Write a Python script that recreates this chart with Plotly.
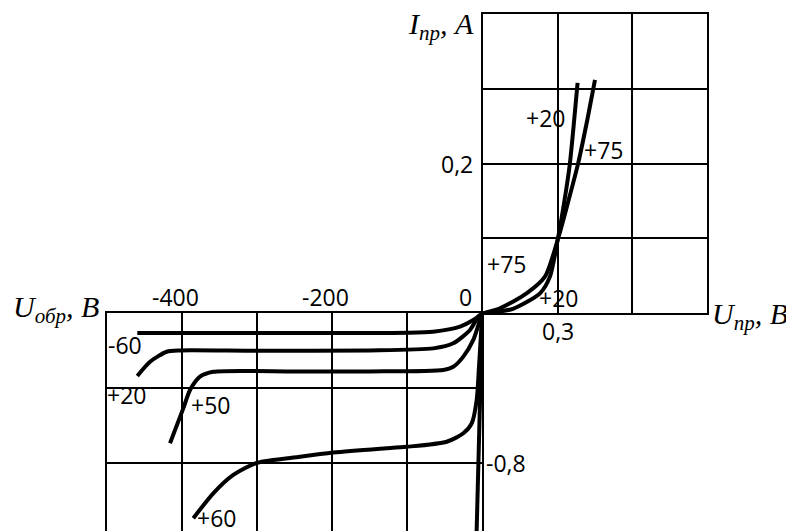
import plotly.graph_objects as go

# page is offset by the default 8px body margin
OFF = 8
W, H = 794 - OFF, 531 - OFF

# ---- forward branch (U_пр, V ; I_пр, A) ----
fwd20_u = [0, 0.068, 0.12, 0.229, 0.269, 0.300, 0.327, 0.349, 0.364, 0.380]
fwd20_i = [0, 0.0024, 0.006, 0.0267, 0.049, 0.098, 0.150, 0.200, 0.250, 0.308]
fwd75_u = [0, 0.068, 0.175, 0.249, 0.300, 0.343, 0.382, 0.420, 0.450]
fwd75_i = [0, 0.0067, 0.0267, 0.049, 0.098, 0.150, 0.200, 0.260, 0.312]

# ---- reverse branch (U_обр, V ; I_обр) ----
rev_m60_u = [-460, -300, -150, -100, -65.7, -29.7, -12, 0]
rev_m60_i = [-0.105, -0.105, -0.105, -0.104, -0.098, -0.071, -0.036, 0]
rev_20_u = [-460, -443, -420.8, -403, -300, -150, -65.3, -38.7, -16.4, -5.3, 0]
rev_20_i = [-0.334, -0.258, -0.205, -0.198, -0.200, -0.198, -0.187, -0.160, -0.089, -0.018, 0]
rev_50_u = [-416.4, -398.7, -389.7, -376.4, -358.7, -250, -150, -52, -38.7, -25.3, -12, -3.1, 0]
rev_50_i = [-0.693, -0.507, -0.409, -0.338, -0.312, -0.310, -0.310, -0.302, -0.285, -0.231, -0.142, -0.036, 0]
rev_60_u = [-385.3, -358.7, -332, -300, -243, -198.7, -136.4, -100.8, -47.5, -25.3, -14.1, -7.5, -4.4, -1.7, 0]
rev_60_i = [-1.093, -0.960, -0.862, -0.797, -0.765, -0.743, -0.722, -0.712, -0.685, -0.640, -0.587, -0.462, -0.285, -0.107, 0]
rev_v_u = [0, -7.8]
rev_v_i = [0, -1.2]

# ---- tick labels ----
rev_u_ticks = [-400, -200]
rev_u_ticklabels = ["-400", "-200"]
fwd_u_ticks = [0.3]
fwd_u_ticklabels = ["0,3"]
fwd_i_ticks = [0.2]
fwd_i_ticklabels = ["0,2"]
rev_i_ticks = [-0.8]
rev_i_ticklabels = ["-0,8"]

# ---- curve temperature labels ----
fwd_labels = [("+20", 0.253, 0.261), ("+75", 0.486, 0.218), ("+75", 0.096, 0.0665), ("+20", 0.305, 0.0204)]
rev_labels = [("-60", -476.4, -0.169), ("+20", -475, -0.436), ("+50", -363, -0.489), ("+60", -354, -1.090)]

# layout geometry (page pixels -> figure pixels)
def fx(p):
    return (p - OFF) / W

def fy(p):
    return 1 - (p - OFF) / H

q1_x = [fx(483), fx(707)]
q1_y = [fy(313.3), fy(14)]
q3_x = [fx(107.3), fx(482.3)]
q3_y = [0, fy(313.3)]
q3_ymin = -(531 - 313.3) / 75 * 0.4

fig = go.Figure()
line = dict(color="black", width=4, shape="spline", smoothing=0.7)
for u, i in [(fwd20_u, fwd20_i), (fwd75_u, fwd75_i)]:
    fig.add_trace(go.Scatter(x=u, y=i, mode="lines", line=line, xaxis="x", yaxis="y", hoverinfo="skip"))
for u, i in [(rev_m60_u, rev_m60_i), (rev_20_u, rev_20_i), (rev_50_u, rev_50_i), (rev_60_u, rev_60_i)]:
    fig.add_trace(go.Scatter(x=u, y=i, mode="lines", line=line, xaxis="x2", yaxis="y2", hoverinfo="skip"))
fig.add_trace(go.Scatter(x=rev_v_u, y=rev_v_i, mode="lines", line=dict(color="black", width=4),
                         xaxis="x2", yaxis="y2", hoverinfo="skip"))

grid = dict(showgrid=True, gridcolor="black", gridwidth=2, zeroline=False, showticklabels=False,
            ticks="", showline=True, linecolor="black", linewidth=2, fixedrange=True)

fig.update_layout(
    width=W, height=H, margin=dict(l=0, r=0, t=0, b=0),
    paper_bgcolor="white", plot_bgcolor="rgba(0,0,0,0)", showlegend=False,
    xaxis=dict(domain=q1_x, range=[0, 0.9], dtick=0.3, tick0=0, mirror=True, anchor="y", **grid),
    yaxis=dict(domain=q1_y, range=[0, 0.4], dtick=0.1, tick0=0, mirror=True, anchor="x", **grid),
    xaxis2=dict(domain=q3_x, range=[-500, 0], dtick=100, tick0=0, side="top", anchor="y2", **grid),
    yaxis2=dict(domain=q3_y, range=[q3_ymin, 0], dtick=0.4, tick0=0, mirror=True, anchor="x2", **grid),
)

tick_font = dict(family="Open Sans", size=23, color="black")
ann = []
for v, t in zip(rev_u_ticks, rev_u_ticklabels):
    ann.append(dict(x=v, y=0, xref="x2", yref="y2", text=t, showarrow=False, font=tick_font,
                    xanchor="center", yanchor="middle", xshift=-7, yshift=16))
ann.append(dict(x=0, y=0, xref="x2", yref="y2", text="0", showarrow=False, font=tick_font,
                xanchor="right", yanchor="middle", xshift=-8, yshift=16))
for v, t in zip(fwd_u_ticks, fwd_u_ticklabels):
    ann.append(dict(x=v, y=0, xref="x", yref="y", text=t, showarrow=False, font=tick_font,
                    xanchor="center", yanchor="middle", yshift=-18))
for v, t in zip(fwd_i_ticks, fwd_i_ticklabels):
    ann.append(dict(x=0, y=v, xref="x", yref="y", text=t, showarrow=False, font=tick_font,
                    xanchor="right", yanchor="middle", xshift=-8))
for v, t in zip(rev_i_ticks, rev_i_ticklabels):
    ann.append(dict(x=0, y=v, xref="x2", yref="y2", text=t, showarrow=False, font=tick_font,
                    xanchor="left", yanchor="middle", xshift=2))
for t, u, i in fwd_labels:
    ann.append(dict(x=u, y=i, xref="x", yref="y", text=t, showarrow=False, font=tick_font,
                    xanchor="center", yanchor="middle"))
for t, u, i in rev_labels:
    ann.append(dict(x=u, y=i, xref="x2", yref="y2", text=t, showarrow=False, font=tick_font,
                    xanchor="center", yanchor="middle"))

title_font = dict(family="Liberation Serif", size=30, color="black")
ann.append(dict(x=0, y=0.4, xref="x", yref="y", text="<i>I</i><sub><i>пр</i></sub><i>, A</i>",
                showarrow=False, font=title_font, xanchor="right", yanchor="top", xshift=-7, yshift=9))
ann.append(dict(x=-500, y=0, xref="x2", yref="y2", text="<i>U</i><sub><i>обр</i></sub><i>, B</i>",
                showarrow=False, font=title_font, xanchor="right", yanchor="middle", xshift=-6, yshift=4))
ann.append(dict(x=0.9, y=0, xref="x", yref="y", text="<i>U</i><sub><i>пр</i></sub><i>, B</i>",
                showarrow=False, font=title_font, xanchor="left", yanchor="middle", xshift=3, yshift=-3))
fig.update_layout(annotations=ann)

fig.write_html("out.html")
